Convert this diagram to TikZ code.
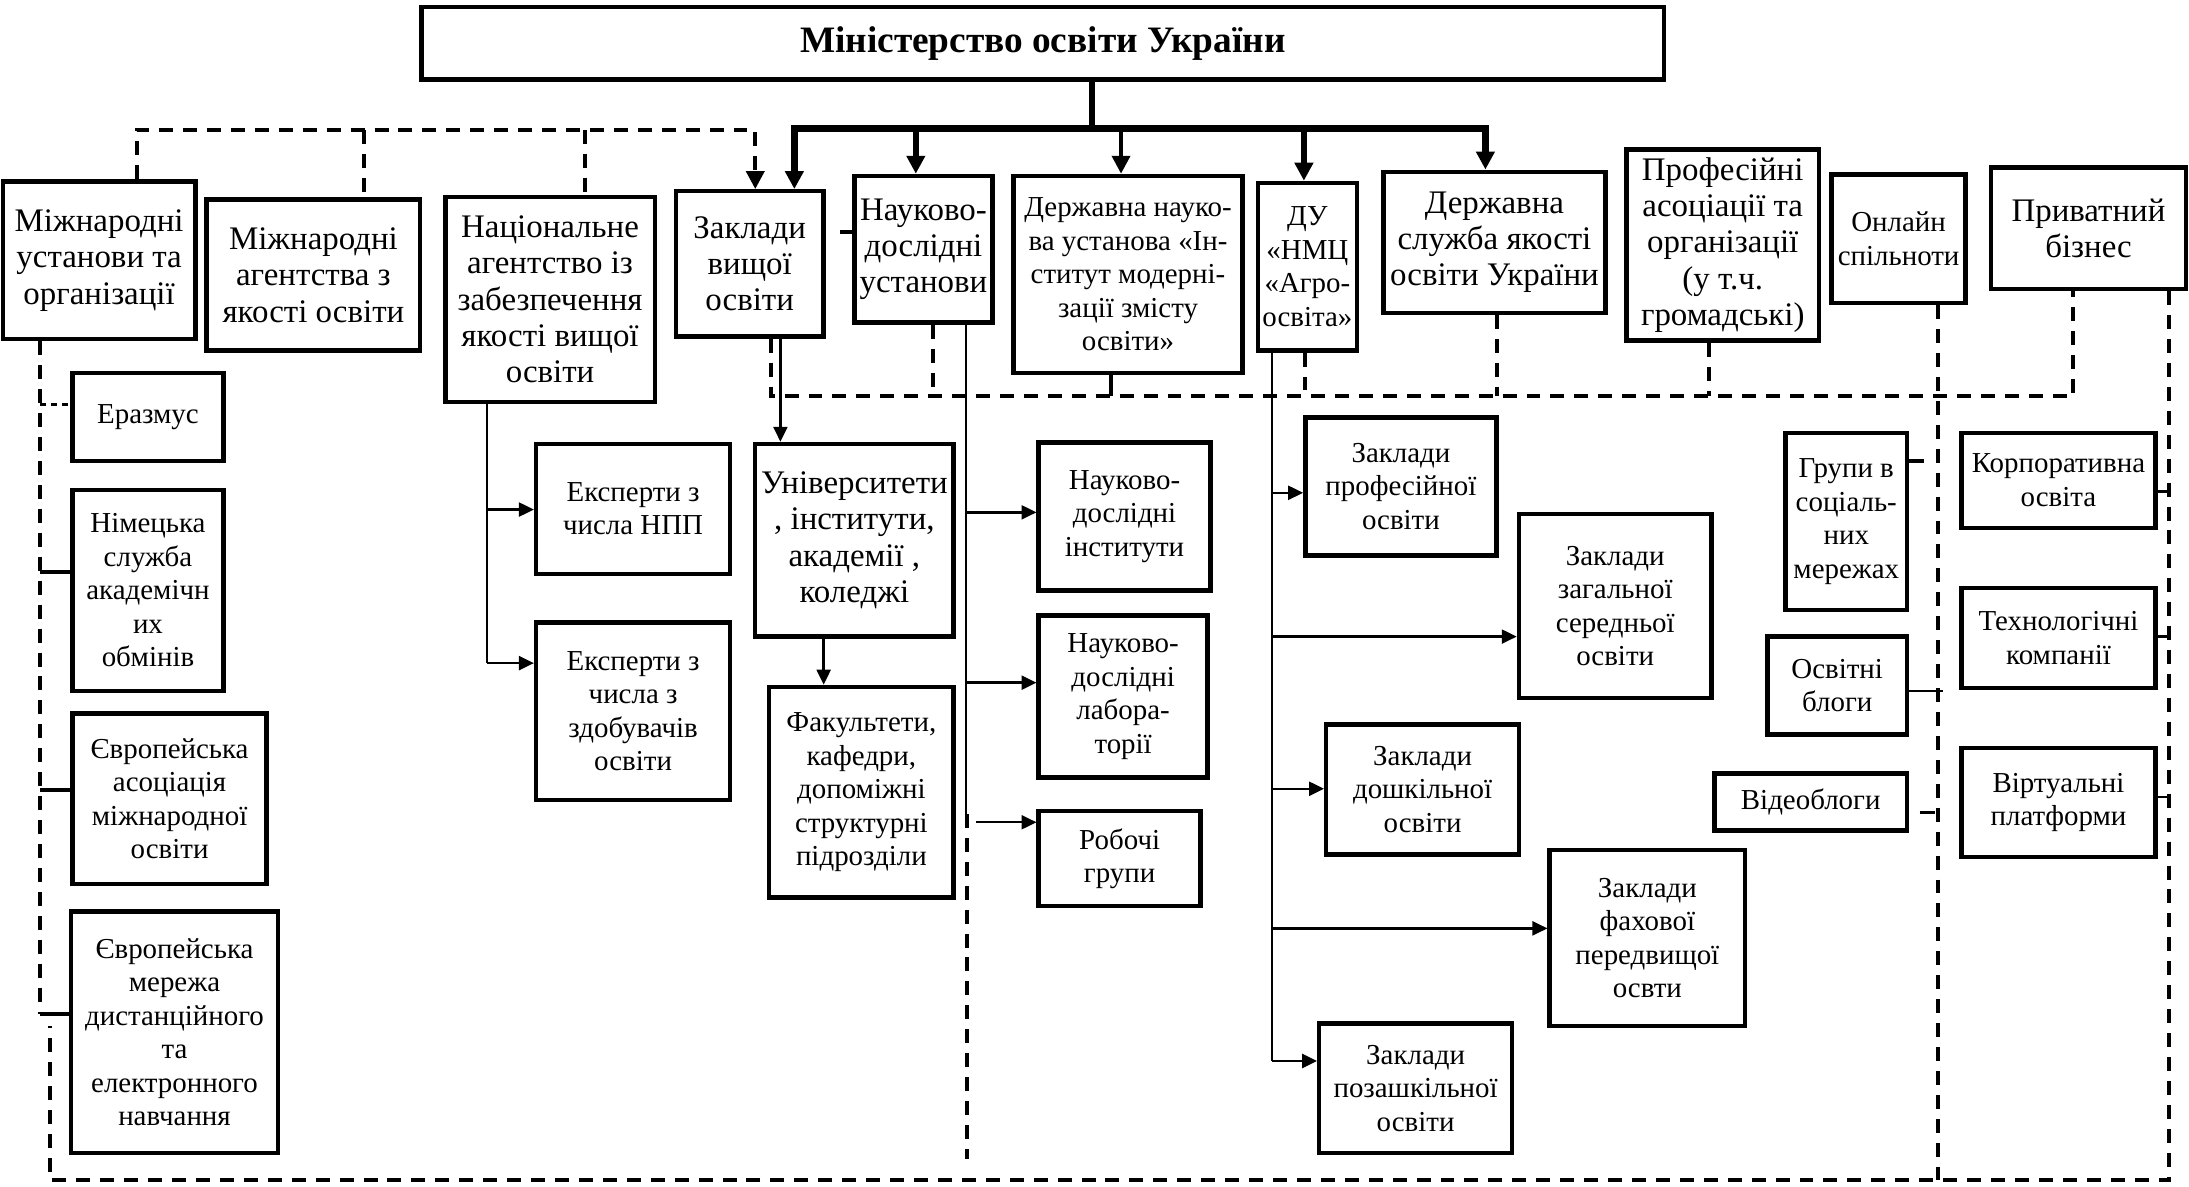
\documentclass[tikz,border=0pt]{standalone}
\usepackage{fontspec}
\setmainfont{Liberation Serif}
\usetikzlibrary{arrows.meta}
\tikzset{
 box/.style={draw, line width=2.2pt, fill=white, align=center, inner sep=1pt},
 big/.style={font=\fontsize{16.5}{18.2}\selectfont},
 sml/.style={font=\fontsize{14.5}{16.8}\selectfont},
 ttl/.style={font=\fontsize{18.7}{20}\selectfont\bfseries},
 thk/.style={line width=3.2pt},
 med/.style={line width=2pt},
 tn/.style={line width=1.2pt},
 dsh/.style={line width=2pt, dash pattern=on 7pt off 5pt},
 dshs/.style={line width=1.4pt, dash pattern=on 3pt off 2.5pt},
 tip/.style={-{Triangle[length=7.5pt,width=7pt]}},
 bigtip/.style={-{Triangle[length=9pt,width=9pt]}},
}
\newcommand\bx[7]{%
  \pgfmathsetmacro\myBW{(#5-#3)*0.7}%
  \pgfmathsetmacro\myBH{(#6-#4)*0.7}%
  \node[box,#1,minimum width=\myBW pt,minimum height=\myBH pt] (#2) at ({(#3+#5)/2},{(#4+#6)/2}) {#7};}
\begin{document}
\begin{tikzpicture}[x=0.7pt,y=-0.7pt]
\useasboundingbox (0,0) rectangle (1568,850);
% ---- boxes, top row
\bx{ttl}{title}{302}{5}{1192}{57}{Міністерство освіти України}
\bx{big}{miu}{2}{130}{140}{243}{Міжнародні\\установи та\\організації}
\bx{big}{mia}{148}{143}{301}{251}{Міжнародні\\агентства з\\якості освіти}
\bx{big}{nazya}{319}{141}{469}{288}{Національне\\агентство із\\забезпечення\\якості вищої\\освіти}
\bx{big}{zvo}{484}{137}{590}{241}{Заклади\\вищої\\освіти}
\bx{big}{ndu}{612}{126}{711}{231}{Науково-\\дослідні\\установи}
\bx{sml}{dnu}{726}{126}{890}{267}{Державна науко-\\ва установа «Ін-\\ститут модерні-\\зації змісту\\освіти»}
\bx{sml}{du}{901}{131}{972}{251}{ДУ\\«НМЦ\\«Агро-\\освіта»}
\bx{big}{dsya}{991}{123}{1150}{224}{Державна\\служба якості\\освіти України}
\bx{big}{pa}{1165}{107}{1303}{244}{Професійні\\асоціації та\\організації\\(у т.ч.\\громадські)}
\bx{sml}{os}{1312}{125}{1408}{217}{Онлайн\\спільноти}
\bx{big}{pb}{1426}{120}{1566}{207}{Приватний\\бізнес}
% ---- left column
\bx{sml}{erasmus}{52}{267}{160}{330}{Еразмус}
\bx{sml}{daad}{52}{351}{160}{495}{Німецька\\служба\\академічн\\их\\обмінів}
\bx{sml}{eaie}{52}{511}{191}{633}{Європейська\\асоціація\\міжнародної\\освіти}
\bx{sml}{eden}{51}{653}{199}{826}{Європейська\\мережа\\дистанційного\\та\\електронного\\навчання}
% ---- experts
\bx{sml}{enpp}{384}{318}{523}{411}{Експерти з\\числа НПП}
\bx{sml}{ezdo}{384}{446}{523}{573}{Експерти з\\числа з\\здобувачів\\освіти}
% ---- universities
\bx{big}{univ}{541}{318}{683}{456}{Університети\\, інститути,\\академії ,\\коледжі}
\bx{sml}{fak}{551}{492}{683}{643}{Факультети,\\кафедри,\\допоміжні\\структурні\\підрозділи}
% ---- research
\bx{sml}{ndi}{744}{317}{867}{423}{Науково-\\дослідні\\інститути}
\bx{sml}{ndl}{744}{441}{865}{557}{Науково-\\дослідні\\лабора-\\торії}
\bx{sml}{rg}{744}{581}{860}{649}{Робочі\\групи}
% ---- schools
\bx{sml}{zpo}{935}{299}{1072}{398}{Заклади\\професійної\\освіти}
\bx{sml}{zzso}{1088}{368}{1226}{500}{Заклади\\загальної\\середньої\\освіти}
\bx{sml}{zdo}{950}{519}{1088}{612}{Заклади\\дошкільної\\освіти}
\bx{sml}{zfpo}{1110}{609}{1250}{735}{Заклади\\фахової\\передвищої\\освти}
\bx{sml}{zpzo}{945}{733}{1083}{826}{Заклади\\позашкільної\\освіти}
% ---- online
\bx{sml}{gsm}{1279}{310}{1366}{437}{Групи в\\соціаль-\\них\\мережах}
\bx{sml}{ob}{1266}{456}{1366}{526}{Освітні\\блоги}
\bx{sml}{vb}{1228}{554}{1366}{595}{Відеоблоги}
% ---- business
\bx{sml}{ko}{1405}{310}{1544}{378}{Корпоративна\\освіта}
\bx{sml}{tk}{1405}{421}{1544}{493}{Технологічні\\компанії}
\bx{sml}{vp}{1405}{536}{1544}{614}{Віртуальні\\платформи}

% ---- thick ministry connectors
\draw[thk] (title.south -| 782,0) -- (782,92);
\draw[thk,line cap=rect] (569,92) -- (1064,92);
\draw[thk,bigtip] (569,92) -- (zvo.north -| 569,0);
\draw[thk,bigtip] (656,92) -- (ndu.north -| 656,0);
\draw[med,bigtip] (803,92) -- (dnu.north -| 803,0);
\draw[thk,bigtip] (934,92) -- (du.north -| 934,0);
\draw[thk,bigtip] (1064,92) -- (dsya.north -| 1064,0);

% ---- top-left dashed network
\draw[dsh,bigtip] (miu.north -| 98,0) -- (98,93) -- (541,93) -- (zvo.north -| 541,0);
\draw[dsh] (261,93) -- (mia.north -| 261,0);
\draw[dsh] (419,93) -- (nazya.north -| 419,0);

% ---- middle dashed network
\draw[dsh] (zvo.south -| 552,0) -- (552,284) -- (1485,284) -- (pb.south -| 1485,0);
\draw[dsh] (ndu.south -| 668,0) -- (668,284);
\draw[med] (dnu.south -| 796,0) -- (796,284);
\draw[dsh] (du.south -| 935,0) -- (935,284);
\draw[dsh] (dsya.south -| 1072,0) -- (1072,284);
\draw[dsh] (pa.south -| 1224,0) -- (1224,284);
\draw[dsh] (os.south -| 1388,0) -- (1388,845);
\draw[dsh] (pb.south -| 1554,0) -- (1554,845) -- (36,845) -- (36,735);

% ---- left column
\draw[dsh] (miu.south -| 29,0) -- (29,726);
\draw[dshs] (29,290) -- (erasmus.west |- 0,290);
\draw[med] (29,410) -- (daad.west |- 0,410);
\draw[med] (29,566) -- (eaie.west |- 0,566);
\draw[med] (29,726) -- (eden.west |- 0,726);

% ---- experts
\draw[tn] (nazya.south -| 349,0) -- (349,475);
\draw[tn,tip] (349,365) -- (enpp.west |- 0,365);
\draw[tn,tip] (349,475) -- (ezdo.west |- 0,475);

% ---- universities
\draw[tn,tip] (zvo.south -| 559,0) -- (univ.north -| 559,0);
\draw[tn,tip] (univ.south -| 590,0) -- (fak.north -| 590,0);
\draw[med] (602,166) -- (ndu.west |- 0,166);

% ---- research
\draw[tn] (ndu.south -| 692,0) -- (692,590);
\draw[dsh] (693,583) -- (693,830);
\draw[tn,tip] (692,367) -- (ndi.west |- 0,367);
\draw[tn,tip] (692,489) -- (ndl.west |- 0,489);
\draw[tn,tip] (699,589) -- (rg.west |- 0,589);

% ---- schools
\draw[tn] (du.south -| 911,0) -- (911,760);
\draw[tn,tip] (911,353) -- (zpo.west |- 0,353);
\draw[tn,tip] (911,456) -- (zzso.west |- 0,456);
\draw[tn,tip] (911,565) -- (zdo.west |- 0,565);
\draw[tn,tip] (911,665) -- (zfpo.west |- 0,665);
\draw[tn,tip] (911,760) -- (zpzo.west |- 0,760);

% ---- online
\draw[med] (gsm.east |- 0,330) -- (1378,330);
\draw[tn] (ob.east |- 0,495) -- (1392,495);
\draw[med] (1375,582) -- (1386,582);

% ---- business
\draw[tn] (ko.east |- 0,352) -- (1554,352);
\draw[tn] (tk.east |- 0,456) -- (1554,456);
\draw[tn] (vp.east |- 0,571) -- (1554,571);
\end{tikzpicture}
\end{document}
